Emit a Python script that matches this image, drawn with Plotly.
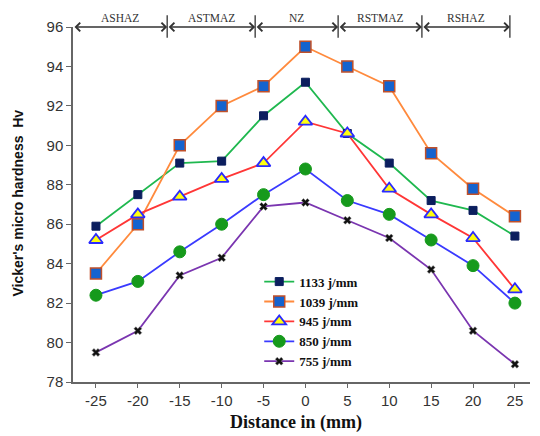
import plotly.graph_objects as go

distance = [-25, -20, -15, -10, -5, 0, 5, 10, 15, 20, 25]
x_tick_labels = ["-25", "-20", "-15", "-10", "-5", "0", "5", "10", "15", "20", "25"]
hv_1133 = [85.9, 87.5, 89.1, 89.2, 91.5, 93.2, 90.6, 89.1, 87.2, 86.7, 85.4]
hv_1039 = [83.5, 86.0, 90.0, 92.0, 93.0, 95.0, 94.0, 93.0, 89.6, 87.8, 86.4]
hv_945 = [85.2, 86.5, 87.4, 88.3, 89.1, 91.2, 90.6, 87.8, 86.5, 85.3, 82.7]
hv_850 = [82.4, 83.1, 84.6, 86.0, 87.5, 88.8, 87.2, 86.5, 85.2, 83.9, 82.0]
hv_755 = [79.5, 80.6, 83.4, 84.3, 86.9, 87.1, 86.2, 85.3, 83.7, 80.6, 78.9]

zone_names = ["ASHAZ", "ASTMAZ", "NZ", "RSTMAZ", "RSHAZ"]
zone_bounds = [-27.74, -16.5, -6.0, 3.9, 13.9, 24.4]

fig = go.Figure()

series = [
    ("1133 j/mm", hv_1133, "#1fb84f", dict(symbol="square", size=8, color="#0b1e5e", line=dict(color="#0b1e5e", width=1))),
    ("1039 j/mm", hv_1039, "#ff8a3d", dict(symbol="square", size=11, color="#1463cf", line=dict(color="#c0502a", width=1.5))),
    ("945 j/mm", hv_945, "#ff3636", dict(symbol="triangle-up", size=12, color="#ffff10", line=dict(color="#2a2aff", width=1.8))),
    ("850 j/mm", hv_850, "#3a3aff", dict(symbol="circle", size=12, color="#169a1c", line=dict(color="#169a1c", width=1))),
    ("755 j/mm", hv_755, "#7a35b0", dict(symbol="x", size=7, color="#111111", line=dict(color="#888888", width=0.5))),
]
for name, vals, lc, mk in series:
    fig.add_trace(go.Scatter(x=distance, y=vals, name=name, mode="lines+markers",
                             line=dict(color=lc, width=1.8), marker=mk, cliponaxis=False))

# zone header
for i, nm in enumerate(zone_names):
    a, b = zone_bounds[i], zone_bounds[i + 1]
    fig.add_annotation(x=b, y=1.0, xref="x", yref="paper", ax=a, ay=0, axref="x", ayref="pixel",
                       text="", showarrow=True, arrowhead=4, startarrowhead=4, arrowside="end+start",
                       arrowsize=1.3, startarrowsize=1.3, arrowwidth=1.3, arrowcolor="#333333",
                       standoff=0, startstandoff=0)
    fig.add_annotation(x=(a + b) / 2, y=1.0, xref="x", yref="paper", text=nm, showarrow=False,
                       yanchor="bottom", yshift=1,
                       font=dict(family="Liberation Serif", size=11.5, color="#333333"))
for bnd in zone_bounds[1:]:
    fig.add_shape(type="line", x0=bnd, x1=bnd, y0=0.97, y1=1.033, xref="x", yref="paper",
                  line=dict(color="#333333", width=1.3))

fig.add_annotation(x=-0.12, y=0.503, xref="paper", yref="paper", text="Vicker's micro hardness  Hv",
                   textangle=-90, showarrow=False, xanchor="center", yanchor="middle",
                   font=dict(family="Liberation Sans", size=14, color="#111111", weight="bold"))
fig.add_annotation(x=0.488, y=-0.113, xref="paper", yref="paper", text="Distance in (mm)",
                   showarrow=False, xanchor="center", yanchor="middle",
                   font=dict(family="Liberation Serif", size=18, color="#111111", weight="bold"))

# page body adds an 8px margin: figure is 8px smaller and content shifted accordingly
fig.update_layout(
    width=532, height=428,
    margin=dict(l=65, r=10, t=12, b=54),
    plot_bgcolor="white", paper_bgcolor="white",
    showlegend=True,
    legend=dict(x=0.4075, y=0.325, xanchor="left", yanchor="top", bgcolor="rgba(0,0,0,0)",
                font=dict(family="Liberation Serif", size=13, color="#111111", weight="bold"),
                itemwidth=30, tracegroupgap=0),
    xaxis=dict(range=[-27.74, 26.8], tickvals=distance, ticktext=x_tick_labels, showgrid=False,
               zeroline=False, showline=True, linecolor="#666666", linewidth=1.5, ticks="outside",
               ticklen=4, tickcolor="#666666",
               tickfont=dict(family="Liberation Sans", size=15, color="#333333")),
    yaxis=dict(range=[78, 96], dtick=2, showgrid=False, zeroline=False,
               showline=True, linecolor="#666666", linewidth=1.5, ticks="outside", ticklen=5,
               tickcolor="#666666", tickfont=dict(family="Liberation Sans", size=15, color="#333333")),
)

fig.write_html("out.html")
